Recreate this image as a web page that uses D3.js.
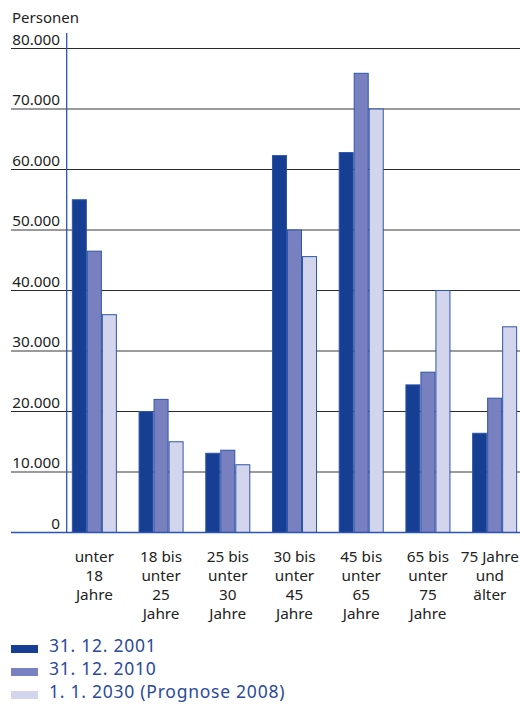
<!DOCTYPE html>
<html>
<head>
<meta charset="utf-8">
<script src="https://cdn.jsdelivr.net/npm/d3@7"></script>
<style>
  html, body { margin: 0; padding: 0; background: #fff; }
  svg { display: block; font-family: "Noto Sans", "Open Sans", sans-serif; }
</style>
</head>
<body>
<svg id="chart" width="520" height="704"></svg>
<script>
// Altersgruppen (Kategorien), mehrzeilige Beschriftung
const categories = [
  ["unter", "18", "Jahre"],
  ["18 bis", "unter", "25", "Jahre"],
  ["25 bis", "unter", "30", "Jahre"],
  ["30 bis", "unter", "45", "Jahre"],
  ["45 bis", "unter", "65", "Jahre"],
  ["65 bis", "unter", "75", "Jahre"],
  ["75 Jahre", "und", "älter"]
];
const seriesNames = ["31. 12. 2001", "31. 12. 2010", "1. 1. 2030 (Prognose 2008)"];
const values2001 = [55000, 20000, 13100, 62300, 62800, 24400, 16400];
const values2010 = [46500, 22000, 13600, 50000, 75900, 26500, 22200];
const values2030 = [36000, 15000, 11200, 45600, 70000, 40000, 34000];
const yTicks = [0, 10000, 20000, 30000, 40000, 50000, 60000, 70000, 80000];
const yTickLabels = ["0", "10.000", "20.000", "30.000", "40.000", "50.000", "60.000", "70.000", "80.000"];

const series = [values2001, values2010, values2030];
const fills = ["#163f94", "#7880bf", "#d3d5ec"];
const strokeCol = "#2f55aa";

const svg = d3.select("#chart");
const catIdx = d3.range(categories.length);

const y = d3.scaleLinear().domain([0, 80000]).range([532.5, 48.5]);
const x = d3.scaleBand().domain(catIdx).range([61, 528])
  .paddingInner(0.325).paddingOuter(0.1625);
const xs = d3.scaleBand().domain(d3.range(series.length)).range([0, x.bandwidth()]);

// Einheit
svg.append("text").attr("x", 12).attr("y", 23)
  .attr("font-size", 15).attr("fill", "#222").text("Personen");

// Gitterlinien
svg.append("g").selectAll("line")
  .data(yTicks.filter(d => d > 0))
  .join("line")
  .attr("x1", 11).attr("x2", 520)
  .attr("y1", d => y(d)).attr("y2", d => y(d))
  .attr("stroke", d => (d / 10000) % 2 === 0 ? "#2a2a2a" : "#7a7a7a")
  .attr("stroke-width", d => (d / 10000) % 2 === 0 ? 1.2 : 1.6);

// Achsenbeschriftung
svg.append("g").selectAll("text")
  .data(yTicks)
  .join("text")
  .attr("x", 60).attr("y", d => y(d) - 4)
  .attr("text-anchor", "end")
  .attr("font-size", 15.3).attr("fill", "#222")
  .text((d, i) => yTickLabels[i]);

// Balken
const groups = svg.append("g").selectAll("g")
  .data(catIdx)
  .join("g")
  .attr("transform", i => `translate(${x(i)},0)`);

groups.selectAll("rect")
  .data(i => series.map((s, k) => ({ k, v: s[i] })))
  .join("rect")
  .attr("x", d => xs(d.k) + 0.5)
  .attr("width", xs.bandwidth() - 1)
  .attr("y", d => y(d.v))
  .attr("height", d => y(0) - y(d.v))
  .attr("fill", d => fills[d.k])
  .attr("stroke", strokeCol)
  .attr("stroke-width", 1);

// Achsen
svg.append("line").attr("x1", 66.7).attr("x2", 66.7).attr("y1", 33).attr("y2", y(0))
  .attr("stroke", "#2a55b5").attr("stroke-width", 1.3);
svg.append("line").attr("x1", 11).attr("x2", 520).attr("y1", y(0)).attr("y2", y(0))
  .attr("stroke", "#2a55b5").attr("stroke-width", 1.6);

// Kategorienbeschriftung (zentriert, am rechten Rand eingerückt)
const catLabels = svg.append("g").selectAll("text")
  .data(catIdx)
  .join("text")
  .attr("font-size", 15.3).attr("fill", "#222")
  .attr("text-anchor", "middle");
catLabels.each(function(i) {
  const t = d3.select(this);
  const c = x(i) + x.bandwidth() / 2;
  categories[i].forEach((line, j) => {
    t.append("tspan").attr("x", c).attr("y", 562 + j * 19).text(line);
  });
  const w = this.getBBox().width;
  const cx = Math.min(c, 519 - w / 2);
  t.selectAll("tspan").attr("x", cx);
});

// Legende
const legend = svg.append("g").selectAll("g")
  .data(seriesNames)
  .join("g")
  .attr("transform", (d, i) => `translate(0,${649 + i * 23})`);
legend.append("rect")
  .attr("x", 11).attr("y", -4).attr("width", 27).attr("height", 8)
  .attr("fill", (d, i) => fills[i]);
legend.append("text")
  .attr("x", 49).attr("y", 3)
  .attr("font-size", 17.5).attr("letter-spacing", 0.75)
  .attr("fill", "#2c4a9c")
  .text(d => d);
</script>
</body>
</html>
